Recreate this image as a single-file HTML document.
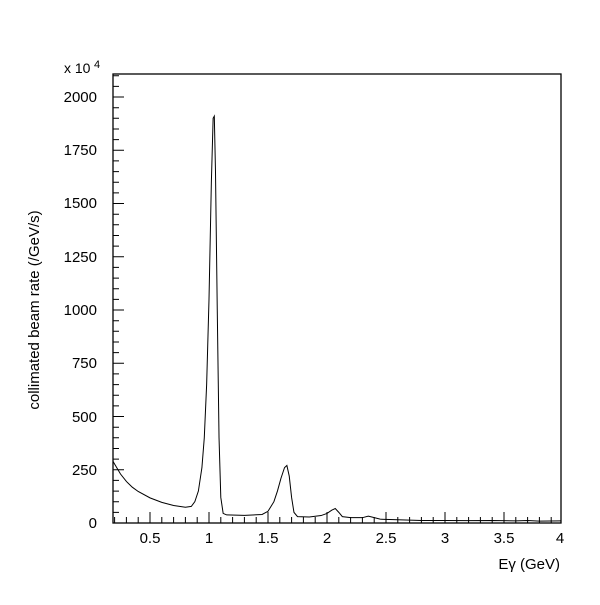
<!DOCTYPE html><html><head><style>body{margin:0;background:#fff}svg text{font-family:"Liberation Sans",sans-serif;fill:#000}</style></head><body>
<svg width="600" height="600" xmlns="http://www.w3.org/2000/svg">
<rect x="113" y="74" width="448" height="449" fill="none" stroke="#000" stroke-width="1.3"/>
<g stroke="#000" stroke-width="1">
<path d="M113 512.4h6M113 501.7h6M113 491.1h6M113 480.4h6M113 469.8h11M113 459.1h6M113 448.5h6M113 437.8h6M113 427.2h6M113 416.5h11M113 405.9h6M113 395.2h6M113 384.6h6M113 373.9h6M113 363.3h11M113 352.6h6M113 342h6M113 331.3h6M113 320.7h6M113 310h11M113 299.4h6M113 288.7h6M113 278.1h6M113 267.4h6M113 256.8h11M113 246.1h6M113 235.5h6M113 224.8h6M113 214.2h6M113 203.5h11M113 192.9h6M113 182.2h6M113 171.6h6M113 160.9h6M113 150.3h11M113 139.6h6M113 129h6M113 118.3h6M113 107.7h6M113 97h11M113 86.4h6M113 75.7h6"/>
<path id="xt" d="M114.6 523v-6M126.4 523v-6M138.2 523v-6M150 523v-11M161.8 523v-6M173.6 523v-6M185.4 523v-6M197.2 523v-6M209 523v-11M220.8 523v-6M232.6 523v-6M244.4 523v-6M256.2 523v-6M268 523v-11M279.8 523v-6M291.6 523v-6M303.4 523v-6M315.2 523v-6M327 523v-11M338.8 523v-6M350.6 523v-6M362.4 523v-6M374.2 523v-6M386 523v-11M397.8 523v-6M409.6 523v-6M421.4 523v-6M433.2 523v-6M445 523v-11M456.8 523v-6M468.6 523v-6M480.4 523v-6M492.2 523v-6M504 523v-11M515.8 523v-6M527.6 523v-6M539.4 523v-6M551.2 523v-6"/>
</g>
<g transform="translate(150,523) scale(118,-0.213) translate(-0.5,0)">
<path fill="none" stroke="#000" stroke-width="1" vector-effect="non-scaling-stroke" d="M0.186 290 L0.25 230 L0.3 195 L0.35 168 L0.4 148 L0.5 118 L0.6 97 L0.7 82 L0.8 74 L0.85 78 L0.88 100 L0.91 150 L0.94 260 L0.96 400 L0.98 650 L1.0 1050 L1.02 1600 L1.035 1900 L1.045 1910 L1.055 1650 L1.07 1000 L1.085 400 L1.1 120 L1.12 45 L1.15 38 L1.3 36 L1.45 40 L1.5 55 L1.55 100 L1.58 150 L1.61 210 L1.64 260 L1.66 270 L1.68 220 L1.7 120 L1.72 50 L1.75 30 L1.85 28 L1.95 35 L2.0 45 L2.04 60 L2.07 68 L2.1 50 L2.13 30 L2.2 25 L2.3 25 L2.35 32 L2.38 28 L2.45 18 L2.6 15 L2.8 12 L3.0 12 L3.2 11 L3.4 12 L3.6 10 L3.7 12 L3.8 9 L3.98 10"/>
</g>
<g font-size="15" text-anchor="end">
<text x="97" y="528">0</text><text x="97" y="475">250</text><text x="97" y="422">500</text><text x="97" y="368">750</text><text x="97" y="315">1000</text><text x="97" y="262">1250</text><text x="97" y="208">1500</text><text x="97" y="155">1750</text><text x="97" y="102">2000</text>
</g>
<g font-size="15" text-anchor="middle">
<text x="150" y="543">0.5</text><text x="209" y="543">1</text><text x="268" y="543">1.5</text><text x="327" y="543">2</text><text x="386" y="543">2.5</text><text x="445" y="543">3</text><text x="504" y="543">3.5</text><text x="560" y="543">4</text>
</g>
<text x="64" y="73" font-size="14">x 10</text><text x="94" y="68" font-size="11">4</text>
<text x="560" y="569" font-size="15" text-anchor="end">Eγ (GeV)</text>
<text transform="translate(39,310) rotate(-90)" font-size="15" text-anchor="middle">collimated beam rate (/GeV/s)</text>
</svg></body></html>
